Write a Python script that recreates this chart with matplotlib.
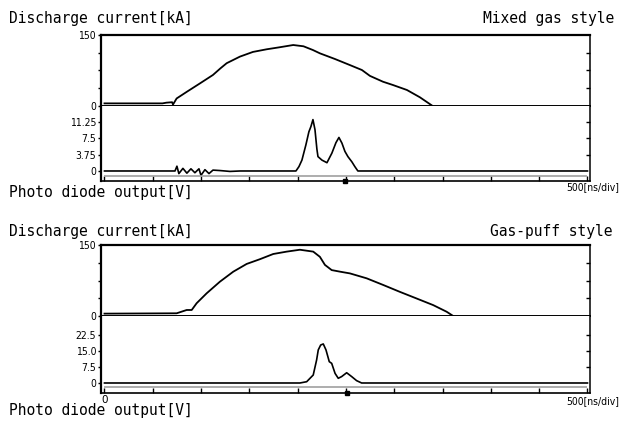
import matplotlib.pyplot as plt

# Time axis: 500 ns/div, 10 divisions
time_ticks = [0, 500, 1000, 1500, 2000, 2500, 3000, 3500, 4000, 4500, 5000]

# Mixed gas style - discharge current [kA]
mixed_cur_t = [0, 600, 640, 700, 709, 747, 851, 988, 1123, 1200, 1265, 1402, 1537, 1679,
               1816, 1954, 2060, 2158, 2230, 2385, 2541, 2665, 2748, 2883, 2986, 3131,
               3265, 3390]
mixed_cur_i = [4.5, 4.5, 6, 7, 2, 15, 29, 47, 65, 79, 90, 104, 114, 119.6,
               124, 128.7, 126, 118, 111, 99, 86, 75.5, 63, 50.6, 43.6, 33,
               17.5, 0]

# Mixed gas style - photo diode output [V]
mixed_pd_t = [0, 730, 750, 770, 812, 853, 895, 936, 978, 999, 1040, 1082, 1123, 1195, 1299,
              1402, 1982, 2013, 2044, 2085, 2116, 2137, 2158, 2179, 2199, 2210, 2251, 2303,
              2354, 2396, 2427, 2458, 2489, 2520, 2561, 2592, 2623, 5000]
mixed_pd_v = [0, 0, 1.1, -0.6, 0.6, -0.5, 0.5, -0.4, 0.5, -1.0, 0.3, -0.6, 0.2, 0.1, -0.1,
              0, 0, 1.0, 2.5, 6.0, 9.0, 10.2, 11.8, 9.5, 5.0, 3.3, 2.5, 1.9,
              4.1, 6.5, 7.7, 6.4, 4.5, 3.3, 2.1, 1.0, 0, 0]

# Gas-puff style - discharge current [kA]
puff_cur_t = [0, 747, 851, 903, 954, 1058, 1195, 1333, 1472, 1609, 1747, 1886, 2023,
              2161, 2230, 2282, 2352, 2440, 2541, 2714, 2886, 3058, 3231, 3403, 3542, 3610]
puff_cur_i = [5, 5.7, 12.7, 12.7, 27, 48, 72.5, 93.6, 110, 120, 131, 136, 140,
              136, 125, 108, 97, 93.6, 90, 79.6, 65.5, 51, 37, 23, 9, 0]

# Gas-puff style - photo diode output [V]
puff_pd_t = [0, 2023, 2093, 2161, 2196, 2213, 2238, 2265, 2293, 2327, 2352, 2387, 2420,
             2455, 2507, 2559, 2610, 2662, 5000]
puff_pd_v = [0, 0, 0.6, 3.75, 10.8, 15.5, 17.8, 18.3, 15.5, 10.0, 9.2, 4.5, 2.2,
             3.0, 4.8, 3.0, 1.1, 0, 0]

W, H = 629, 421
fig = plt.figure(figsize=(W / 100, H / 100), dpi=100)

MONO = 'DejaVu Sans Mono'
NARROW = 'DejaVu Sans'


# Helper: place axes using pixel box (left, top, right, bottom)
def px_axes(left, top, right, bottom):
    return fig.add_axes([left / W, 1 - bottom / H, (right - left) / W, (bottom - top) / H])


def px_text(x, y, s, **kw):
    fig.text(x / W, 1 - y / H, s, **kw)


def style_panel(ax, ticks, labels, top_lw, bottom_lw):
    ax.set_xlim(-36, 5026)
    ax.set_yticks(ticks)
    ax.set_yticklabels(labels, fontsize=7.5, family=NARROW, fontstretch='condensed')
    ax.tick_params(axis='y', direction='out', length=2.5, width=1, pad=1)
    ax.spines['left'].set_linewidth(1.6)
    ax.spines['right'].set_linewidth(1.1)
    ax.spines['top'].set_linewidth(top_lw)
    ax.spines['bottom'].set_linewidth(bottom_lw)
    # inward ticks on the right side
    sec = ax.secondary_yaxis('right')
    sec.set_yticks([t for t in ticks if t != 0 and t != ax.get_ylim()[1]])
    sec.tick_params(direction='in', length=3, width=1, labelright=False)
    sec.spines['right'].set_visible(False)


def draw_chart(top, mid, bottom, cur_t, cur_i, pd_t, pd_v, pd_lim, pd_ticks, pd_labels,
               gray_y, marker_t):
    ax_c = px_axes(101, top, 590, mid)
    ax_p = px_axes(101, mid, 590, bottom)

    ax_c.plot(cur_t, cur_i, color='black', lw=1.3)
    ax_c.set_ylim(0, 150)
    style_panel(ax_c, [0, 37.5, 75, 112.5, 150], ['0', '', '', '', '150'], 1.6, 1.4)
    ax_c.set_xticks([])

    ax_p.plot(pd_t, pd_v, color='black', lw=1.2)
    ax_p.hlines(gray_y, 0, 5000, color='#a0a0a0', lw=1.2)
    ax_p.set_ylim(*pd_lim)
    style_panel(ax_p, pd_ticks, pd_labels, 0, 1.2)
    ax_p.spines['top'].set_visible(False)
    ax_p.set_xticks(time_ticks)
    ax_p.tick_params(axis='x', direction='in', length=3.5, width=1, labelbottom=False)
    # trigger marker on the time axis
    ax_p.plot([marker_t], [pd_lim[0]], marker='s', ms=2.5, color='black', clip_on=False)
    return ax_c, ax_p


# Upper chart: Mixed gas style
draw_chart(35, 105.5, 181, mixed_cur_t, mixed_cur_i, mixed_pd_t, mixed_pd_v,
           (-2.30, 15.04), [0, 3.75, 7.5, 11.25], ['0', '3.75', '7.5', '11.25'],
           -1.08, 2490)
px_text(9, 18, 'Discharge current[kA]', family=MONO, fontsize=10.5, va='center')
px_text(614, 18, 'Mixed gas style', family=MONO, fontsize=10.5, va='center', ha='right')
px_text(9, 193, 'Photo diode output[V]', family=MONO, fontsize=10.5, va='center')
px_text(619, 187, '500[ns/div]', family=NARROW, fontsize=7.5, va='center', ha='right',
        fontstretch='condensed')

# Lower chart: Gas-puff style
draw_chart(245, 316, 393, puff_cur_t, puff_cur_i, puff_pd_t, puff_pd_v,
           (-4.69, 31.4), [0, 7.5, 15, 22.5], ['0', '7.5', '15.0', '22.5'],
           -1.875, 2507)
px_text(9, 232, 'Discharge current[kA]', family=MONO, fontsize=10.5, va='center')
px_text(612, 232, 'Gas-puff style', family=MONO, fontsize=10.5, va='center', ha='right')
px_text(9, 411, 'Photo diode output[V]', family=MONO, fontsize=10.5, va='center')
px_text(105, 400, '0', family=NARROW, fontsize=7.5, va='center', ha='center')
px_text(619, 401, '500[ns/div]', family=NARROW, fontsize=7.5, va='center', ha='right',
        fontstretch='condensed')

plt.savefig('out.png', dpi=100)
